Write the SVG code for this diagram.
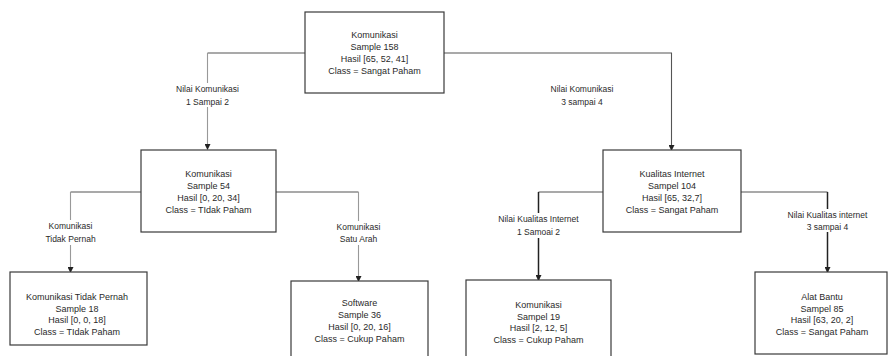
<svg xmlns="http://www.w3.org/2000/svg" width="888" height="356" viewBox="0 0 888 356">
<style>
.box{fill:#fff;stroke:#3a3a3a;stroke-width:1.2}
.t{font-family:"Liberation Sans",Arial,sans-serif;font-size:9px;fill:#2a2a2a;text-anchor:middle}
.l{font-family:"Liberation Sans",Arial,sans-serif;font-size:8.5px;fill:#2a2a2a;text-anchor:middle}
.e{fill:none;stroke:#555;stroke-width:1.1}
.ev{fill:none;stroke:#999;stroke-width:1.1}
.eb{fill:none;stroke:#222;stroke-width:1.5}
.bg{fill:#fff}
</style>
<defs>
<marker id="arr" markerWidth="6" markerHeight="6" refX="5" refY="3" orient="auto" markerUnits="userSpaceOnUse">
<path d="M0,0 L6,3 L0,6 z" fill="#222"/>
</marker>
</defs>
<g id="connectors">
<path class="e" d="M305,53 H207.5"/>
<path class="ev" d="M207.5,53 V149" marker-end="url(#arr)"/>
<path class="e" d="M444,53 H671.5 V150" marker-end="url(#arr)"/>
<path class="e" d="M141,192 H70.5"/>
<path class="ev" d="M70.5,192 V272" marker-end="url(#arr)"/>
<path class="e" d="M276,192 H358.5"/>
<path class="ev" d="M358.5,192 V281" marker-end="url(#arr)"/>
<path class="e" d="M603,192 H538.5"/>
<path class="eb" d="M538.5,192 V280" marker-end="url(#arr)"/>
<path class="e" d="M741,192 H827.5"/>
<path class="eb" d="M827.5,192 V272" marker-end="url(#arr)"/>
<rect class="bg" x="175" y="83" width="66" height="24"/>
<text class="l" x="207.5" y="92">Nilai Komunikasi</text>
<text class="l" x="207.5" y="104.5">1 Sampai 2</text>
<text class="l" x="582" y="92">Nilai Komunikasi</text>
<text class="l" x="582" y="104.5">3 sampai 4</text>
<rect class="bg" x="47" y="220" width="48" height="25"/>
<text class="l" x="70.5" y="229">Komunikasi</text>
<text class="l" x="70.5" y="241.5">Tidak Pernah</text>
<rect class="bg" x="335" y="221" width="48" height="24"/>
<text class="l" x="358.5" y="230">Komunikasi</text>
<text class="l" x="358.5" y="242">Satu Arah</text>
<rect class="bg" x="496" y="213" width="86" height="25"/>
<text class="l" x="538.5" y="222">Nilai Kualitas Internet</text>
<text class="l" x="538.5" y="234.5">1 Samoai 2</text>
<rect class="bg" x="786" y="209" width="84" height="23"/>
<text class="l" x="827.5" y="218">Nilai Kualitas internet</text>
<text class="l" x="827.5" y="229.5">3 sampai 4</text>
</g>
<g id="n-root">
<rect class="box" x="305" y="12" width="139" height="81"/>
<text class="t" x="374.5" y="38">Komunikasi</text>
<text class="t" x="374.5" y="50">Sample 158</text>
<text class="t" x="374.5" y="62">Hasil [65, 52, 41]</text>
<text class="t" x="374.5" y="74">Class = Sangat Paham</text>
</g>
<g id="n-kom54">
<rect class="box" x="141" y="150" width="135" height="82"/>
<text class="t" x="208.5" y="177">Komunikasi</text>
<text class="t" x="208.5" y="189">Sample 54</text>
<text class="t" x="208.5" y="201">Hasil [0, 20, 34]</text>
<text class="t" x="208.5" y="213">Class = TIdak Paham</text>
</g>
<g id="n-ki104">
<rect class="box" x="603" y="150" width="138" height="82"/>
<text class="t" x="672" y="177">Kualitas Internet</text>
<text class="t" x="672" y="189">Sampel 104</text>
<text class="t" x="672" y="201">Hasil [65, 32,7]</text>
<text class="t" x="672" y="213">Class = Sangat Paham</text>
</g>
<g id="n-ktp18">
<rect class="box" x="10" y="272" width="137" height="73"/>
<text class="t" x="77" y="300">Komunikasi Tidak Pernah</text>
<text class="t" x="77" y="311.5">Sample 18</text>
<text class="t" x="77" y="323">Hasil [0, 0, 18]</text>
<text class="t" x="77" y="334.5">Class = TIdak Paham</text>
</g>
<g id="n-sw36">
<rect class="box" x="291" y="281" width="137" height="82"/>
<text class="t" x="359.5" y="306">Software</text>
<text class="t" x="359.5" y="318">Sample 36</text>
<text class="t" x="359.5" y="330">Hasil [0, 20, 16]</text>
<text class="t" x="359.5" y="342">Class = Cukup Paham</text>
</g>
<g id="n-kom19">
<rect class="box" x="466" y="280" width="145" height="82"/>
<text class="t" x="538.5" y="308">Komunikasi</text>
<text class="t" x="538.5" y="319.5">Sampel 19</text>
<text class="t" x="538.5" y="331">Hasil [2, 12, 5]</text>
<text class="t" x="538.5" y="342.5">Class = Cukup Paham</text>
</g>
<g id="n-ab85">
<rect class="box" x="755" y="272" width="132" height="82"/>
<text class="t" x="822" y="300">Alat Bantu</text>
<text class="t" x="822" y="311.5">Sampel 85</text>
<text class="t" x="822" y="323">Hasil [63, 20, 2]</text>
<text class="t" x="822" y="334.5">Class = Sangat Paham</text>
</g>
</svg>
